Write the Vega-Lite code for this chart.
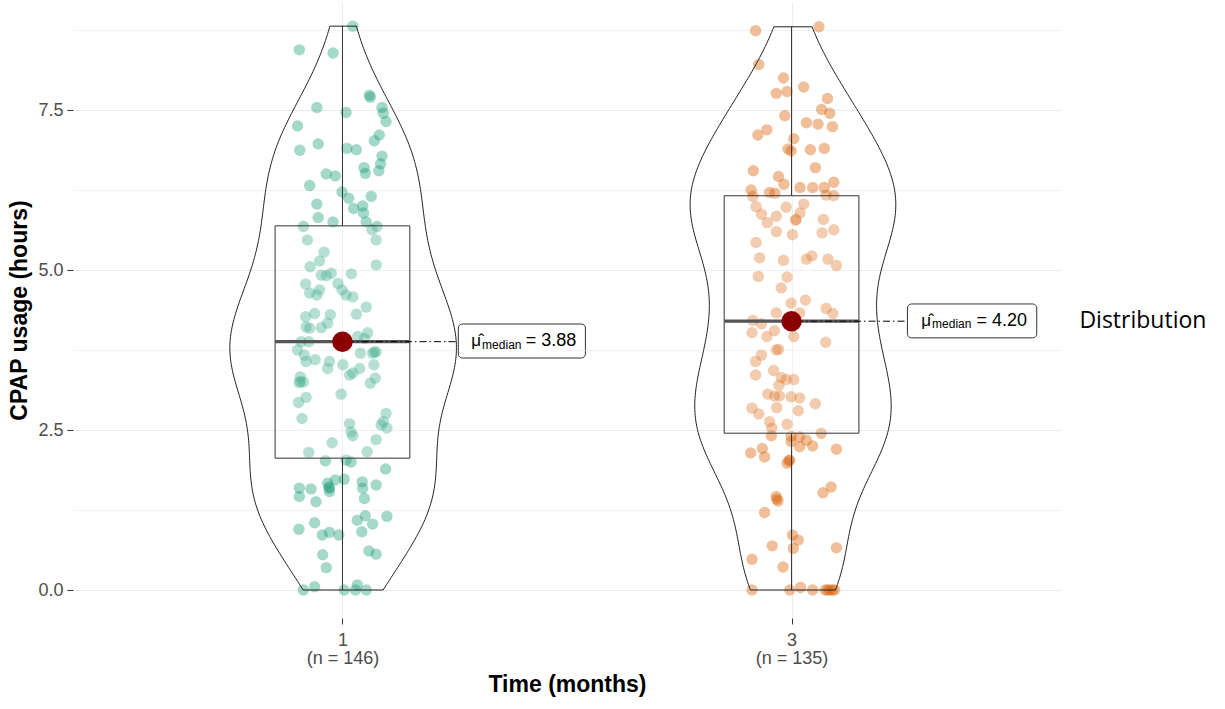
{
  "$schema": "https://vega.github.io/schema/vega-lite/v6.json",
  "background": "white",
  "padding": {"left": 8, "top": 2, "right": 5, "bottom": 5},
  "bounds": "flush",
  "spacing": 0,
  "config": {
    "view": {"stroke": null},
    "font": "Liberation Sans"
  },
  "datasets": {
    "stats": [
      {"time": "1", "n": 146, "min": 0, "q1": 2.06, "median": 3.88, "q3": 5.69, "max": 8.81},
      {"time": "3", "n": 135, "min": 0, "q1": 2.45, "median": 4.2, "q3": 6.16, "max": 8.8}
    ],
    "g1": [
      {"dx":0.023,"hours":8.81},{"dx":-0.096,"hours":8.44},{"dx":-0.021,"hours":8.39},{"dx":0.060,"hours":7.73},
      {"dx":0.062,"hours":7.70},{"dx":-0.057,"hours":7.54},{"dx":0.008,"hours":7.46},{"dx":0.088,"hours":7.54},
      {"dx":0.091,"hours":7.45},{"dx":0.097,"hours":7.32},{"dx":-0.100,"hours":7.25},{"dx":-0.054,"hours":6.97},
      {"dx":-0.095,"hours":6.87},{"dx":0.010,"hours":6.90},{"dx":0.031,"hours":6.88},{"dx":0.082,"hours":7.11},
      {"dx":0.071,"hours":7.02},{"dx":0.088,"hours":6.78},{"dx":0.085,"hours":6.66},{"dx":0.081,"hours":6.55},
      {"dx":0.048,"hours":6.60},{"dx":0.051,"hours":6.51},{"dx":-0.036,"hours":6.50},{"dx":-0.016,"hours":6.47},
      {"dx":-0.073,"hours":6.32},{"dx":-0.001,"hours":6.22},{"dx":0.014,"hours":6.12},{"dx":0.064,"hours":6.15},
      {"dx":-0.057,"hours":6.03},{"dx":0.025,"hours":5.96},{"dx":0.045,"hours":6.00},{"dx":0.047,"hours":5.89},
      {"dx":-0.054,"hours":5.82},{"dx":-0.021,"hours":5.75},{"dx":0.053,"hours":5.75},{"dx":0.077,"hours":5.68},
      {"dx":0.066,"hours":5.63},{"dx":-0.087,"hours":5.68},{"dx":-0.078,"hours":5.47},{"dx":0.075,"hours":5.47},
      {"dx":-0.041,"hours":5.28},{"dx":-0.051,"hours":5.14},{"dx":-0.072,"hours":5.05},{"dx":0.075,"hours":5.08},
      {"dx":-0.047,"hours":4.92},{"dx":-0.036,"hours":4.91},{"dx":-0.025,"hours":4.95},{"dx":0.020,"hours":4.94},
      {"dx":-0.082,"hours":4.78},{"dx":-0.010,"hours":4.79},{"dx":-0.001,"hours":4.69},{"dx":-0.073,"hours":4.64},
      {"dx":-0.057,"hours":4.61},{"dx":-0.051,"hours":4.69},{"dx":0.008,"hours":4.61},{"dx":0.023,"hours":4.58},
      {"dx":0.053,"hours":4.42},{"dx":-0.082,"hours":4.27},{"dx":-0.062,"hours":4.32},{"dx":-0.081,"hours":4.11},
      {"dx":-0.073,"hours":4.09},{"dx":-0.027,"hours":4.30},{"dx":-0.033,"hours":4.17},{"dx":-0.047,"hours":4.10},
      {"dx":0.031,"hours":4.31},{"dx":0.056,"hours":4.02},{"dx":0.034,"hours":3.96},{"dx":0.049,"hours":3.93},
      {"dx":-0.092,"hours":3.88},{"dx":-0.075,"hours":3.88},{"dx":-0.100,"hours":3.75},{"dx":-0.085,"hours":3.67},
      {"dx":-0.081,"hours":3.57},{"dx":-0.061,"hours":3.60},{"dx":-0.029,"hours":3.57},{"dx":-0.033,"hours":3.46},
      {"dx":0.001,"hours":3.52},{"dx":0.040,"hours":3.70},{"dx":0.067,"hours":3.70},{"dx":0.071,"hours":3.72},
      {"dx":0.038,"hours":3.46},{"dx":0.023,"hours":3.39},{"dx":0.016,"hours":3.36},{"dx":0.070,"hours":3.52},
      {"dx":-0.094,"hours":3.33},{"dx":-0.096,"hours":3.24},{"dx":-0.087,"hours":3.25},{"dx":0.073,"hours":3.31},
      {"dx":0.062,"hours":3.23},{"dx":-0.003,"hours":3.06},{"dx":-0.081,"hours":3.01},{"dx":-0.098,"hours":2.93},
      {"dx":-0.090,"hours":2.68},{"dx":0.097,"hours":2.76},{"dx":0.091,"hours":2.63},{"dx":0.086,"hours":2.58},
      {"dx":0.099,"hours":2.53},{"dx":0.016,"hours":2.60},{"dx":0.019,"hours":2.47},{"dx":0.023,"hours":2.41},
      {"dx":0.075,"hours":2.35},{"dx":-0.023,"hours":2.30},{"dx":-0.075,"hours":2.15},{"dx":0.055,"hours":2.16},
      {"dx":-0.038,"hours":2.02},{"dx":0.008,"hours":2.03},{"dx":0.019,"hours":2.00},{"dx":0.096,"hours":1.89},
      {"dx":0.004,"hours":1.73},{"dx":-0.016,"hours":1.72},{"dx":-0.033,"hours":1.67},{"dx":-0.029,"hours":1.59},
      {"dx":-0.029,"hours":1.54},{"dx":-0.096,"hours":1.59},{"dx":-0.070,"hours":1.58},{"dx":-0.096,"hours":1.46},
      {"dx":0.044,"hours":1.69},{"dx":0.045,"hours":1.59},{"dx":0.049,"hours":1.43},{"dx":0.075,"hours":1.64},
      {"dx":-0.059,"hours":1.38},{"dx":0.099,"hours":1.15},{"dx":0.051,"hours":1.16},{"dx":0.033,"hours":1.09},
      {"dx":0.067,"hours":1.03},{"dx":0.043,"hours":0.91},{"dx":-0.062,"hours":1.05},{"dx":-0.097,"hours":0.95},
      {"dx":-0.045,"hours":0.86},{"dx":-0.029,"hours":0.90},{"dx":-0.008,"hours":0.86},{"dx":0.059,"hours":0.61},
      {"dx":0.075,"hours":0.56},{"dx":-0.044,"hours":0.55},{"dx":-0.036,"hours":0.35},{"dx":-0.087,"hours":0},
      {"dx":-0.062,"hours":0.05},{"dx":0.004,"hours":0},{"dx":0.029,"hours":0},{"dx":0.033,"hours":0.08},
      {"dx":0.053,"hours":0},{"dx":-0.030,"hours":1.61},{"dx":-0.094,"hours":3.26},{"dx":0.075,"hours":3.72}
    ],
    "g2": [
      {"dx":-0.080,"hours":8.74},{"dx":0.061,"hours":8.80},{"dx":-0.073,"hours":8.21},{"dx":-0.018,"hours":8.00},
      {"dx":-0.034,"hours":7.76},{"dx":-0.010,"hours":7.79},{"dx":0.027,"hours":7.86},{"dx":0.080,"hours":7.68},
      {"dx":0.067,"hours":7.51},{"dx":0.085,"hours":7.45},{"dx":-0.015,"hours":7.41},{"dx":0.033,"hours":7.30},
      {"dx":0.059,"hours":7.28},{"dx":0.091,"hours":7.24},{"dx":-0.075,"hours":7.11},{"dx":-0.055,"hours":7.19},
      {"dx":0.005,"hours":7.05},{"dx":-0.008,"hours":6.89},{"dx":-0.001,"hours":6.86},{"dx":0.042,"hours":6.88},
      {"dx":0.073,"hours":6.90},{"dx":0.053,"hours":6.60},{"dx":-0.085,"hours":6.55},{"dx":-0.029,"hours":6.46},
      {"dx":-0.017,"hours":6.34},{"dx":-0.090,"hours":6.25},{"dx":-0.086,"hours":6.15},{"dx":-0.049,"hours":6.21},
      {"dx":-0.037,"hours":6.20},{"dx":0.019,"hours":6.29},{"dx":0.047,"hours":6.29},{"dx":0.073,"hours":6.29},
      {"dx":0.094,"hours":6.37},{"dx":0.077,"hours":6.17},{"dx":0.094,"hours":6.16},{"dx":-0.079,"hours":5.99},
      {"dx":-0.067,"hours":5.87},{"dx":-0.054,"hours":5.74},{"dx":-0.012,"hours":5.98},{"dx":0.027,"hours":6.03},
      {"dx":0.019,"hours":5.89},{"dx":0.010,"hours":5.79},{"dx":-0.034,"hours":5.84},{"dx":0.071,"hours":5.79},
      {"dx":-0.034,"hours":5.60},{"dx":0.002,"hours":5.55},{"dx":0.068,"hours":5.58},{"dx":0.094,"hours":5.63},
      {"dx":-0.079,"hours":5.43},{"dx":-0.071,"hours":5.19},{"dx":-0.018,"hours":5.15},{"dx":0.033,"hours":5.17},
      {"dx":0.045,"hours":5.22},{"dx":0.081,"hours":5.17},{"dx":0.100,"hours":5.07},{"dx":-0.074,"hours":4.90},
      {"dx":-0.010,"hours":4.89},{"dx":-0.023,"hours":4.72},{"dx":-0.001,"hours":4.48},{"dx":0.031,"hours":4.53},
      {"dx":-0.034,"hours":4.33},{"dx":0.018,"hours":4.33},{"dx":0.077,"hours":4.40},{"dx":0.092,"hours":4.32},
      {"dx":-0.086,"hours":4.21},{"dx":-0.067,"hours":4.16},{"dx":-0.088,"hours":4.02},{"dx":-0.038,"hours":4.05},
      {"dx":-0.055,"hours":3.96},{"dx":0.005,"hours":3.96},{"dx":0.076,"hours":3.87},{"dx":-0.034,"hours":3.75},
      {"dx":-0.029,"hours":3.76},{"dx":-0.067,"hours":3.67},{"dx":-0.080,"hours":3.57},{"dx":-0.080,"hours":3.36},
      {"dx":-0.040,"hours":3.43},{"dx":-0.023,"hours":3.32},{"dx":-0.012,"hours":3.29},{"dx":0.005,"hours":3.29},
      {"dx":-0.028,"hours":3.20},{"dx":-0.053,"hours":3.06},{"dx":-0.038,"hours":3.03},{"dx":-0.027,"hours":3.03},
      {"dx":-0.001,"hours":3.02},{"dx":0.018,"hours":3.00},{"dx":0.053,"hours":2.91},{"dx":-0.088,"hours":2.84},
      {"dx":-0.073,"hours":2.75},{"dx":-0.033,"hours":2.85},{"dx":0.015,"hours":2.80},{"dx":-0.049,"hours":2.63},
      {"dx":-0.044,"hours":2.53},{"dx":-0.045,"hours":2.41},{"dx":-0.010,"hours":2.59},{"dx":0.066,"hours":2.45},
      {"dx":-0.001,"hours":2.40},{"dx":0.018,"hours":2.39},{"dx":0.033,"hours":2.34},{"dx":-0.001,"hours":2.32},
      {"dx":0.018,"hours":2.24},{"dx":0.047,"hours":2.25},{"dx":-0.091,"hours":2.14},{"dx":-0.065,"hours":2.21},
      {"dx":-0.060,"hours":2.08},{"dx":0.100,"hours":2.20},{"dx":-0.004,"hours":2.03},{"dx":-0.010,"hours":1.98},
      {"dx":-0.034,"hours":1.46},{"dx":-0.030,"hours":1.39},{"dx":0.088,"hours":1.61},{"dx":0.070,"hours":1.52},
      {"dx":-0.060,"hours":1.21},{"dx":0.002,"hours":0.86},{"dx":0.015,"hours":0.78},{"dx":0.004,"hours":0.65},
      {"dx":-0.043,"hours":0.69},{"dx":0.100,"hours":0.66},{"dx":-0.088,"hours":0.48},{"dx":-0.019,"hours":0.36},
      {"dx":-0.088,"hours":0},{"dx":-0.004,"hours":0},{"dx":0.020,"hours":0.04},{"dx":0.047,"hours":0},
      {"dx":0.075,"hours":0},{"dx":0.096,"hours":0},{"dx":0.085,"hours":0},{"dx":0.091,"hours":0},
      {"dx":0.080,"hours":0},{"dx":-0.006,"hours":2.02},{"dx":-0.033,"hours":1.42},{"dx":0.009,"hours":5.78}
    ]
  },
  "hconcat": [
    {
      "width": 494,
      "height": 616,
      "resolve": {"scale": {"x": "independent"}},
      "layer": [
        {
          "data": {"name": "g1"},
          "mark": {"type": "circle", "size": 130, "opacity": 0.4, "color": "#1B9E77"},
          "encoding": {
            "x": {
              "field": "dx", "type": "quantitative",
              "scale": {"domain": [-0.6, 0.5], "nice": false, "zero": false},
              "axis": {
                "values": [0], "labelExpr": "['1', '(n = 146)']",
                "grid": true, "gridColor": "#ebebeb", "gridWidth": 1,
                "domain": false, "tickColor": "#333333", "tickSize": 6,
                "labelFontSize": 18, "labelColor": "#4d4d4d", "labelLineHeight": 18, "labelPadding": 7,
                "title": "Time (months)", "titleFontSize": 23, "titleFontWeight": "bold", "titleColor": "black",
                "titleX": 494, "titleAlign": "center", "titlePadding": 6
              }
            },
            "y": {
              "field": "hours", "type": "quantitative",
              "scale": {"domain": [-0.4375, 9.1875], "nice": false, "zero": false},
              "axis": {
                "values": [0, 1.25, 2.5, 3.75, 5, 6.25, 7.5, 8.75],
                "labelExpr": "datum.value % 2.5 === 0 ? format(datum.value, '.1f') : ''",
                "tickOpacity": {"condition": {"test": "datum.value % 2.5 === 0", "value": 1}, "value": 0},
                "gridColor": "#ebebeb",
                "gridWidth": {"condition": {"test": "datum.value % 2.5 === 0", "value": 1}, "value": 0.7},
                "domain": false, "tickColor": "#333333", "tickSize": 6,
                "labelFontSize": 18, "labelColor": "#4d4d4d", "labelPadding": 4,
                "title": "CPAP usage (hours)", "titleFontSize": 23, "titleFontWeight": "bold", "titleColor": "black",
                "titlePadding": 6
              }
            }
          }
        },
        {
          "data": {"name": "stats"},
          "transform": [{"filter": "datum.time == '1'"}],
          "mark": {"type": "rect", "fill": "white", "fillOpacity": 0.2, "stroke": "#333333", "strokeWidth": 1},
          "encoding": {
            "x": {"datum": -0.15, "type": "quantitative", "scale": {"domain": [-0.6, 0.5], "nice": false, "zero": false}, "axis": null},
            "x2": {"datum": 0.15},
            "y": {"field": "q1", "type": "quantitative"},
            "y2": {"field": "q3"}
          }
        },
        {
          "data": {"name": "stats"},
          "transform": [{"filter": "datum.time == '1'"}],
          "mark": {"type": "rule", "color": "#333333", "strokeWidth": 1},
          "encoding": {
            "x": {"datum": 0, "type": "quantitative", "scale": {"domain": [-0.6, 0.5], "nice": false, "zero": false}, "axis": null},
            "y": {"field": "q3", "type": "quantitative"},
            "y2": {"field": "max"}
          }
        },
        {
          "data": {"name": "stats"},
          "transform": [{"filter": "datum.time == '1'"}],
          "mark": {"type": "rule", "color": "#333333", "strokeWidth": 1},
          "encoding": {
            "x": {"datum": 0, "type": "quantitative", "scale": {"domain": [-0.6, 0.5], "nice": false, "zero": false}, "axis": null},
            "y": {"field": "min", "type": "quantitative"},
            "y2": {"field": "q1"}
          }
        },
        {
          "data": {"name": "stats"},
          "transform": [{"filter": "datum.time == '1'"}],
          "mark": {"type": "rule", "color": "#555555", "strokeWidth": 3.2},
          "encoding": {
            "x": {"datum": -0.15, "type": "quantitative", "scale": {"domain": [-0.6, 0.5], "nice": false, "zero": false}, "axis": null},
            "x2": {"datum": 0.15},
            "y": {"field": "median", "type": "quantitative"}
          }
        },
        {
          "data": {"name": "g1"},
          "transform": [{"density": "hours", "bandwidth": 0.76, "steps": 200, "as": ["value", "density"]}],
          "mark": {"type": "area", "orient": "horizontal", "fill": "white", "fillOpacity": 0, "stroke": "#222222", "strokeWidth": 1},
          "encoding": {
            "x": {"field": "density", "type": "quantitative", "stack": "center", "scale": {"domain": [-0.1091, 0.2345], "nice": false, "zero": false}, "axis": null},
            "y": {"field": "value", "type": "quantitative"}
          }
        },
        {
          "data": {"name": "stats"},
          "transform": [{"filter": "datum.time == '1'"}],
          "mark": {"type": "rule", "color": "black", "strokeWidth": 1, "strokeDash": [1.5, 3, 7, 3]},
          "encoding": {
            "x": {"datum": 0, "type": "quantitative", "scale": {"domain": [-0.6, 0.5], "nice": false, "zero": false}, "axis": null},
            "x2": {"datum": 0.258},
            "y": {"field": "median", "type": "quantitative"}
          }
        },
        {
          "data": {"name": "stats"},
          "transform": [{"filter": "datum.time == '1'"}],
          "mark": {"type": "circle", "size": 420, "opacity": 1, "color": "#8B0000"},
          "encoding": {
            "x": {"datum": 0, "type": "quantitative", "scale": {"domain": [-0.6, 0.5], "nice": false, "zero": false}, "axis": null},
            "y": {"field": "median", "type": "quantitative"}
          }
        },
        {
          "data": {"name": "stats"},
          "transform": [{"filter": "datum.time == '1'"}],
          "mark": {"type": "rect", "fill": "white", "stroke": "#333333", "strokeWidth": 1, "cornerRadius": 4},
          "encoding": {
            "x": {"datum": 0.258, "type": "quantitative", "scale": {"domain": [-0.6, 0.5], "nice": false, "zero": false}, "axis": null},
            "x2": {"datum": 0.541},
            "y": {"datum": 4.156, "type": "quantitative"},
            "y2": {"datum": 3.625}
          }
        },
        {
          "data": {"name": "stats"},
          "transform": [{"filter": "datum.time == '1'"}],
          "mark": {"type": "text", "text": "μ̂", "fontSize": 17, "align": "left", "baseline": "alphabetic", "dy": 4.5, "color": "black"},
          "encoding": {
            "x": {"datum": 0.287, "type": "quantitative", "scale": {"domain": [-0.6, 0.5], "nice": false, "zero": false}, "axis": null},
            "y": {"field": "median", "type": "quantitative"}
          }
        },
        {
          "data": {"name": "stats"},
          "transform": [{"filter": "datum.time == '1'"}],
          "mark": {"type": "text", "text": "median", "fontSize": 12, "align": "left", "baseline": "alphabetic", "dy": 7, "color": "black"},
          "encoding": {
            "x": {"datum": 0.311, "type": "quantitative", "scale": {"domain": [-0.6, 0.5], "nice": false, "zero": false}, "axis": null},
            "y": {"field": "median", "type": "quantitative"}
          }
        },
        {
          "data": {"name": "stats"},
          "transform": [{"filter": "datum.time == '1'"}],
          "mark": {"type": "text", "text": "= 3.88", "fontSize": 18, "align": "left", "baseline": "alphabetic", "dy": 4.5, "color": "black"},
          "encoding": {
            "x": {"datum": 0.408, "type": "quantitative", "scale": {"domain": [-0.6, 0.5], "nice": false, "zero": false}, "axis": null},
            "y": {"field": "median", "type": "quantitative"}
          }
        }
      ]
    },
    {
      "width": 494,
      "height": 616,
      "resolve": {"scale": {"x": "independent"}},
      "layer": [
        {
          "data": {"name": "g2"},
          "mark": {"type": "circle", "size": 130, "opacity": 0.4, "color": "#D95F02"},
          "encoding": {
            "x": {
              "field": "dx", "type": "quantitative",
              "scale": {"domain": [-0.5, 0.6], "nice": false, "zero": false},
              "axis": {
                "values": [0], "labelExpr": "['3', '(n = 135)']",
                "grid": true, "gridColor": "#ebebeb", "gridWidth": 1,
                "domain": false, "tickColor": "#333333", "tickSize": 6,
                "labelFontSize": 18, "labelColor": "#4d4d4d", "labelLineHeight": 18, "labelPadding": 7,
                "title": null
              }
            },
            "y": {
              "field": "hours", "type": "quantitative",
              "scale": {"domain": [-0.4375, 9.1875], "nice": false, "zero": false},
              "axis": {
                "values": [0, 1.25, 2.5, 3.75, 5, 6.25, 7.5, 8.75],
                "labels": false, "ticks": false, "domain": false, "title": null,
                "gridColor": "#ebebeb",
                "gridWidth": {"condition": {"test": "datum.value % 2.5 === 0", "value": 1}, "value": 0.7}
              }
            }
          }
        },
        {
          "data": {"name": "stats"},
          "transform": [{"filter": "datum.time == '3'"}],
          "mark": {"type": "rect", "fill": "white", "fillOpacity": 0.2, "stroke": "#333333", "strokeWidth": 1},
          "encoding": {
            "x": {"datum": -0.15, "type": "quantitative", "scale": {"domain": [-0.5, 0.6], "nice": false, "zero": false}, "axis": null},
            "x2": {"datum": 0.15},
            "y": {"field": "q1", "type": "quantitative"},
            "y2": {"field": "q3"}
          }
        },
        {
          "data": {"name": "stats"},
          "transform": [{"filter": "datum.time == '3'"}],
          "mark": {"type": "rule", "color": "#333333", "strokeWidth": 1},
          "encoding": {
            "x": {"datum": 0, "type": "quantitative", "scale": {"domain": [-0.5, 0.6], "nice": false, "zero": false}, "axis": null},
            "y": {"field": "q3", "type": "quantitative"},
            "y2": {"field": "max"}
          }
        },
        {
          "data": {"name": "stats"},
          "transform": [{"filter": "datum.time == '3'"}],
          "mark": {"type": "rule", "color": "#333333", "strokeWidth": 1},
          "encoding": {
            "x": {"datum": 0, "type": "quantitative", "scale": {"domain": [-0.5, 0.6], "nice": false, "zero": false}, "axis": null},
            "y": {"field": "min", "type": "quantitative"},
            "y2": {"field": "q1"}
          }
        },
        {
          "data": {"name": "stats"},
          "transform": [{"filter": "datum.time == '3'"}],
          "mark": {"type": "rule", "color": "#555555", "strokeWidth": 3.2},
          "encoding": {
            "x": {"datum": -0.15, "type": "quantitative", "scale": {"domain": [-0.5, 0.6], "nice": false, "zero": false}, "axis": null},
            "x2": {"datum": 0.15},
            "y": {"field": "median", "type": "quantitative"}
          }
        },
        {
          "data": {"name": "g2"},
          "transform": [{"density": "hours", "bandwidth": 0.8, "steps": 200, "as": ["value", "density"]}],
          "mark": {"type": "area", "orient": "horizontal", "fill": "white", "fillOpacity": 0, "stroke": "#222222", "strokeWidth": 1},
          "encoding": {
            "x": {"field": "density", "type": "quantitative", "stack": "center", "scale": {"domain": [-0.0856, 0.2579], "nice": false, "zero": false}, "axis": null},
            "y": {"field": "value", "type": "quantitative"}
          }
        },
        {
          "data": {"name": "stats"},
          "transform": [{"filter": "datum.time == '3'"}],
          "mark": {"type": "rule", "color": "black", "strokeWidth": 1, "strokeDash": [1.5, 3, 7, 3]},
          "encoding": {
            "x": {"datum": 0, "type": "quantitative", "scale": {"domain": [-0.5, 0.6], "nice": false, "zero": false}, "axis": null},
            "x2": {"datum": 0.258},
            "y": {"field": "median", "type": "quantitative"}
          }
        },
        {
          "data": {"name": "stats"},
          "transform": [{"filter": "datum.time == '3'"}],
          "mark": {"type": "circle", "size": 420, "opacity": 1, "color": "#8B0000"},
          "encoding": {
            "x": {"datum": 0, "type": "quantitative", "scale": {"domain": [-0.5, 0.6], "nice": false, "zero": false}, "axis": null},
            "y": {"field": "median", "type": "quantitative"}
          }
        },
        {
          "data": {"name": "stats"},
          "transform": [{"filter": "datum.time == '3'"}],
          "mark": {"type": "rect", "fill": "white", "stroke": "#333333", "strokeWidth": 1, "cornerRadius": 4},
          "encoding": {
            "x": {"datum": 0.258, "type": "quantitative", "scale": {"domain": [-0.5, 0.6], "nice": false, "zero": false}, "axis": null},
            "x2": {"datum": 0.546},
            "y": {"datum": 4.469, "type": "quantitative"},
            "y2": {"datum": 3.94}
          }
        },
        {
          "data": {"name": "stats"},
          "transform": [{"filter": "datum.time == '3'"}],
          "mark": {"type": "text", "text": "μ̂", "fontSize": 17, "align": "left", "baseline": "alphabetic", "dy": 4.5, "color": "black"},
          "encoding": {
            "x": {"datum": 0.289, "type": "quantitative", "scale": {"domain": [-0.5, 0.6], "nice": false, "zero": false}, "axis": null},
            "y": {"field": "median", "type": "quantitative"}
          }
        },
        {
          "data": {"name": "stats"},
          "transform": [{"filter": "datum.time == '3'"}],
          "mark": {"type": "text", "text": "median", "fontSize": 12, "align": "left", "baseline": "alphabetic", "dy": 7, "color": "black"},
          "encoding": {
            "x": {"datum": 0.313, "type": "quantitative", "scale": {"domain": [-0.5, 0.6], "nice": false, "zero": false}, "axis": null},
            "y": {"field": "median", "type": "quantitative"}
          }
        },
        {
          "data": {"name": "stats"},
          "transform": [{"filter": "datum.time == '3'"}],
          "mark": {"type": "text", "text": "= 4.20", "fontSize": 18, "align": "left", "baseline": "alphabetic", "dy": 4.5, "color": "black"},
          "encoding": {
            "x": {"datum": 0.412, "type": "quantitative", "scale": {"domain": [-0.5, 0.6], "nice": false, "zero": false}, "axis": null},
            "y": {"field": "median", "type": "quantitative"}
          }
        },
        {
          "data": {"values": [{"label": "Distribution"}]},
          "mark": {"type": "text", "font": "Open Sans", "fontSize": 23, "align": "left", "baseline": "middle", "color": "black"},
          "encoding": {
            "text": {"field": "label"},
            "x": {"datum": 0.641, "type": "quantitative", "scale": {"domain": [-0.5, 0.6], "nice": false, "zero": false}, "axis": null},
            "y": {"datum": 4.2, "type": "quantitative"}
          }
        }
      ]
    }
  ]
}
